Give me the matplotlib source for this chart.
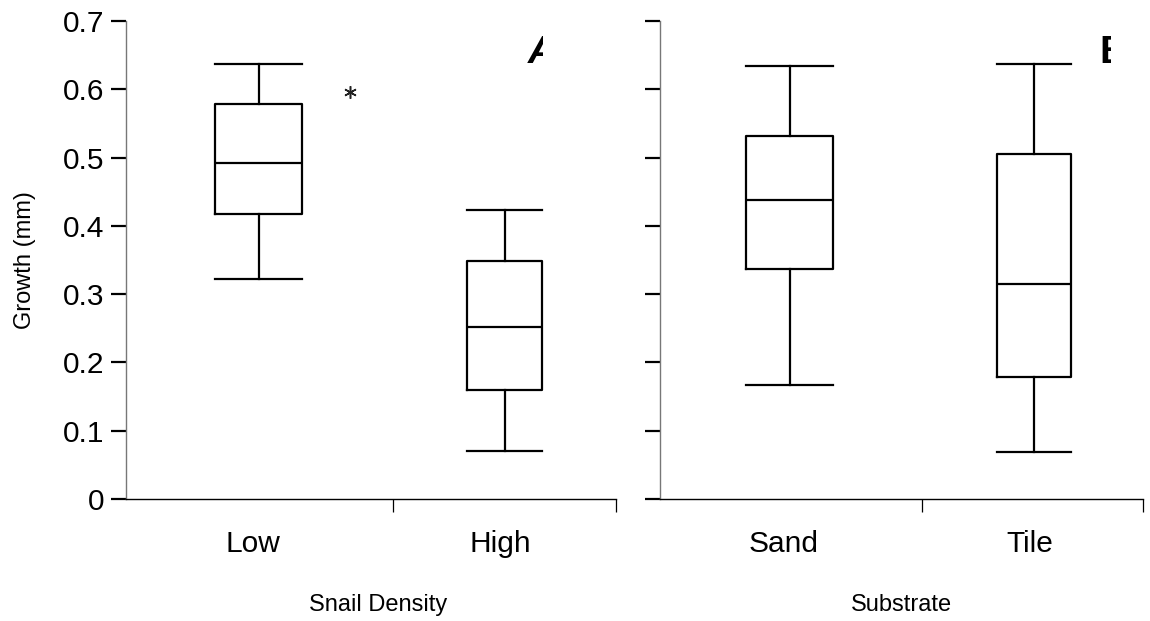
import matplotlib
matplotlib.use('Agg')
import matplotlib.pyplot as plt
from matplotlib.transforms import Bbox, TransformedBbox

plt.rcParams['font.family'] = ['Liberation Sans', 'DejaVu Sans']

# box summaries: whisker low, q1, median, q3, whisker high
density_names = ['Low', 'High']
density_stats = [
    [0.322, 0.417, 0.492, 0.578, 0.637],
    [0.070, 0.160, 0.252, 0.349, 0.423],
]
density_outlier = (0.457, 0.596)

substrate_names = ['Sand', 'Tile']
substrate_stats = [
    [0.167, 0.337, 0.438, 0.532, 0.634],
    [0.069, 0.179, 0.315, 0.505, 0.637],
]

yticks = [0, 0.1, 0.2, 0.3, 0.4, 0.5, 0.6, 0.7]
ytick_labels = ['0', '0.1', '0.2', '0.3', '0.4', '0.5', '0.6', '0.7']

W, H = 1150, 621
fig = plt.figure(figsize=(W / 100, H / 100), dpi=100)

TICK_FS = 21.5
LABEL_FS = 17


def make_panel(rect, stats, names, pos, widths, label_pos, sep, xlabel, xlabel_pos,
               show_labels):
    ax = fig.add_axes(rect)
    bxp = []
    for s in stats:
        bxp.append({'whislo': s[0], 'q1': s[1], 'med': s[2], 'q3': s[3],
                    'whishi': s[4], 'fliers': []})
    line = dict(color='black', linewidth=1.6)
    ax.bxp(bxp, positions=pos, widths=widths, showfliers=False,
           boxprops=line, medianprops=line, whiskerprops=line, capprops=line,
           capwidths=widths, manage_ticks=False)
    ax.set_xlim(0, 1)
    ax.set_ylim(0, 0.7)
    for side in ['top', 'right']:
        ax.spines[side].set_visible(False)
    ax.spines['left'].set_color('#777777')
    ax.spines['left'].set_linewidth(1.0)
    ax.spines['bottom'].set_linewidth(1.0)
    ax.set_yticks(yticks)
    if show_labels:
        ax.set_yticklabels(ytick_labels, fontsize=TICK_FS)
    else:
        ax.set_yticklabels([])
    ax.tick_params(axis='y', direction='out', length=10.8, width=1.6, pad=4.5)
    ax.set_xticks([sep, 1.0])
    ax.set_xticklabels([])
    ax.tick_params(axis='x', direction='out', length=9.4, width=0.9)
    for n, x in zip(names, label_pos):
        ax.text(x, -0.094, n, transform=ax.transAxes, ha='center', va='center',
                fontsize=TICK_FS)
    ax.text(xlabel_pos, -0.222, xlabel, transform=ax.transAxes, ha='center',
            va='center', fontsize=LABEL_FS)
    return ax


ax1 = make_panel([126 / W, 122 / H, 490 / W, 478 / H], density_stats, density_names,
                 [0.271, 0.773], [0.178, 0.153], [0.259, 0.763], 0.545,
                 'Snail Density', 0.514, True)
ax1.plot([density_outlier[0]], [density_outlier[1]], linestyle='none',
         marker=(6, 2, 0), markersize=9, color='#222222', markeredgewidth=1.1)

ax2 = make_panel([660 / W, 122 / H, 483 / W, 478 / H], substrate_stats,
                 substrate_names, [0.269, 0.774], [0.180, 0.153],
                 [0.255, 0.766], 0.542, 'Substrate', 0.5, False)

fig.text(25 / W, (H - 260) / H, 'Growth (mm)', rotation=90, ha='center',
         va='center', fontsize=LABEL_FS)

# panel letters, cut off at the right
for letter, x, cut, style in [('A', 528, 543, 'italic'), ('B', 1099, 1111, 'normal')]:
    t = fig.text(x / W, (H - 53) / H, letter, ha='left', va='center',
                 fontsize=28, fontweight='bold', fontstyle=style,
                 family=['Liberation Sans Narrow', 'Liberation Sans'])
    t.set_clip_box(TransformedBbox(Bbox([[0, 0], [cut / W, 1]]), fig.transFigure))
    t.set_clip_on(True)

fig.savefig('out.png', dpi=100)
